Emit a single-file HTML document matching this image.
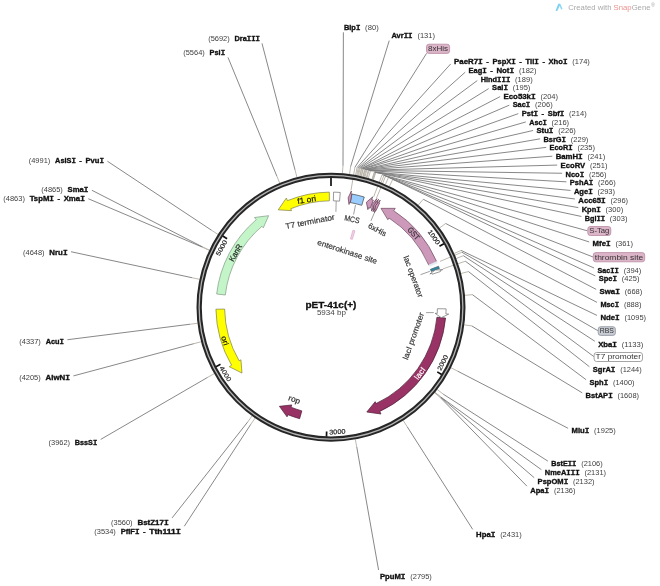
<!DOCTYPE html>
<html><head><meta charset="utf-8"><style>
html,body{margin:0;padding:0;background:#fff;width:660px;height:586px;overflow:hidden}
svg{display:block;will-change:transform}
text{font-family:"Liberation Sans",sans-serif}
.n{font-size:7.4px;font-weight:bold;fill:#111;stroke:#111;stroke-width:0.35px;lengthAdjust:spacingAndGlyphs}
.si{font-family:"Liberation Mono",monospace}
.b{font-size:6.7px;fill:#404040}
.fb{font-size:7.8px;fill:#333}
.tk{font-size:6.8px;fill:#222}
.fl{font-size:7.6px;fill:#222}
.fl2{font-size:7.6px;fill:#222}
.title{font-size:8.4px;font-weight:bold;fill:#111;stroke:#111;stroke-width:0.3px}
.bp{font-size:7.6px;fill:#444}
.logo{font-size:8.1px;fill:#a9a9a9}
</style></head><body>
<svg width="660" height="586" viewBox="0 0 660 586">
<g fill="none" stroke-linecap="butt">
<path d="M342.37 173.28L343.01 165.71 M349.58 174.09L350.63 166.56 M355.62 175.07L357.01 167.60 M356.74 175.29L358.20 167.83 M357.72 175.48L359.23 168.03 M358.55 175.65L360.11 168.22 M359.81 175.92L361.43 168.50 M360.08 175.98L361.73 168.56 M361.19 176.24L362.90 168.83 M361.47 176.30L363.19 168.90 M362.86 176.63L364.66 169.25 M363.27 176.73L365.10 169.35 M364.10 176.94L365.97 169.57 M364.93 177.15L366.84 169.80 M366.30 177.52L368.30 170.19 M366.99 177.71L369.02 170.38 M368.36 178.10L370.47 170.80 M372.03 179.22L374.35 171.98 M372.44 179.35L374.78 172.12 M372.98 179.52L375.35 172.30 M373.38 179.66L375.78 172.45 M381.13 182.50L383.97 175.45 M385.46 184.33L388.54 177.38 M389.46 186.18L392.77 179.34 M418.33 205.04L423.27 199.26 M439.56 227.96L445.69 223.48 M454.19 253.46L461.15 250.42 M456.25 258.46L463.33 255.70 M461.10 273.48L468.46 271.57 M464.88 295.33L472.45 294.66 M464.23 324.87L471.77 325.87 M450.98 367.77L457.76 371.19 M437.25 389.51L443.25 394.17 M435.03 392.29L440.91 397.11 M434.94 392.40L440.82 397.22 M434.58 392.84L440.44 397.69 M403.25 420.53L407.33 426.94 M355.34 439.38L356.72 446.85 M296.94 177.19L295.01 169.84 M279.68 182.98L276.78 175.96 M218.02 234.41L211.63 230.30 M209.34 250.09L202.46 246.86 M209.22 250.35L202.33 247.13 M199.53 279.30L192.09 277.72 M197.57 323.31L190.02 324.22 M201.12 341.74L193.77 343.70 M214.18 373.66L207.58 377.42 M252.05 415.97L247.58 422.12 M255.07 418.10L250.78 424.37 M350.95 190.59L354.94 167.23 M373.61 196.84L382.15 174.73 M376.52 198.01L385.64 176.13 M440.07 261.39L461.92 252.22 M442.92 268.88L465.35 261.21" stroke="#b5b0a5" stroke-width="0.9"/>
<path d="M343.01 165.71L343.38 32.30 M350.63 166.56L389.22 40.60 M357.01 167.60L450.70 63.91 M358.20 167.83L465.20 72.19 M359.23 168.03L477.30 80.55 M360.11 168.22L488.70 88.60 M361.43 168.50L500.10 96.60 M361.73 168.56L509.30 105.15 M362.90 168.83L518.30 113.63 M363.19 168.90L525.80 121.94 M364.66 169.25L533.10 130.47 M365.10 169.35L540.10 138.81 M365.97 169.57L546.20 147.36 M366.84 169.80L552.30 156.21 M368.30 170.19L557.20 165.08 M369.02 170.38L562.10 173.26 M370.47 170.80L566.40 181.84 M374.35 171.98L570.50 190.43 M374.78 172.12L574.90 199.01 M375.35 172.30L578.30 207.60 M375.78 172.45L581.40 216.48 M383.97 175.45L589.20 241.96 M388.54 177.38L594.10 268.02 M392.77 179.34L595.30 275.92 M423.27 199.26L596.20 289.39 M445.69 223.48L597.00 302.39 M461.15 250.42L597.00 315.41 M463.33 255.70L594.80 341.21 M468.46 271.57L589.40 366.72 M472.45 294.66L586.10 379.73 M471.77 325.87L582.20 392.84 M457.76 371.19L568.10 428.30 M443.25 394.17L547.90 461.14 M440.91 397.11L541.40 469.70 M440.82 397.22L534.20 477.70 M440.44 397.69L526.90 486.13 M407.33 426.94L472.70 529.36 M356.72 446.85L378.59 570.00 M295.01 169.84L262.01 43.40 M276.78 175.96L227.99 57.40 M211.63 230.30L107.40 161.22 M202.46 246.86L91.90 190.28 M202.33 247.13L88.30 198.73 M192.09 277.72L71.00 251.72 M190.02 324.22L67.40 339.73 M193.77 343.70L73.40 375.92 M207.58 377.42L100.70 439.42 M247.58 422.12L172.10 517.92 M250.78 424.37L184.30 526.26 M354.94 167.23L426.60 53.30 M382.15 174.73L587.50 230.84 M385.64 176.13L593.00 256.97 M461.92 252.22L597.90 330.70 M465.35 261.21L593.80 356.55" stroke="#7a7a7a" stroke-width="0.9"/>
</g>
<circle cx="331.0" cy="307.2" r="131.85" fill="none" stroke="#262626" stroke-width="5.3"/>
<circle cx="331.0" cy="307.2" r="131.85" fill="none" stroke="#b4b4b4" stroke-width="1.3"/>
<path d="M331.00 177.70L331.00 185.90 M443.90 243.76L439.45 246.26 M441.61 374.54L437.26 371.89 M326.48 436.62L326.65 431.52 M215.96 366.66L220.49 364.32 M222.81 236.03L227.07 238.83" stroke="#111" stroke-width="1.7"/>
<path d="M336.20 201.00L335.90 211.80 M355.50 205.00L353.60 214.50 M375.00 211.40L370.90 220.90 M420.50 274.70L429.90 271.30 M426.10 312.60L433.80 312.60" stroke="#888" stroke-width="0.8" fill="none"/>
<path d="M329.29 192.11A115.10 115.10 0 0 0 287.43 200.67L286.37 198.07L278.23 209.83L291.52 210.66L290.72 208.72A106.40 106.40 0 0 1 329.42 200.81Z" fill="#ffff00" stroke="#7d7d52" stroke-width="0.7" stroke-linejoin="miter"/><path d="M216.66 294.01A115.10 115.10 0 0 1 256.27 219.66L254.45 217.53L268.63 215.68L263.28 227.87L261.92 226.27A106.40 106.40 0 0 0 225.30 295.00Z" fill="#c4f5c8" stroke="#7f9a84" stroke-width="0.7" stroke-linejoin="miter"/><path d="M215.92 309.21A115.10 115.10 0 0 0 231.61 365.24L229.19 366.65L241.96 373.06L240.93 359.80L239.12 360.85A106.40 106.40 0 0 1 224.62 309.06Z" fill="#ffff00" stroke="#7d7d52" stroke-width="0.7" stroke-linejoin="miter"/><path d="M299.64 418.67A115.80 115.80 0 0 1 287.92 414.69L287.06 416.82L279.43 406.34L291.82 404.94L290.93 407.17A107.70 107.70 0 0 0 301.83 410.88Z" fill="#993366" stroke="#4a1a33" stroke-width="0.7" stroke-linejoin="miter"/><path d="M445.58 318.09A115.10 115.10 0 0 1 379.78 411.45L380.97 413.99L366.81 412.00L375.20 401.67L376.09 403.57A106.40 106.40 0 0 0 436.92 317.27Z" fill="#993366" stroke="#4a1a33" stroke-width="0.7" stroke-linejoin="miter"/><path d="M446.09 308.85A115.10 115.10 0 0 1 445.90 313.95L448.70 314.11L441.25 317.68L435.12 313.31L437.22 313.44A106.40 106.40 0 0 0 437.39 308.72Z" fill="#ffffff" stroke="#6f6f6f" stroke-width="0.7" stroke-linejoin="miter"/><path d="M436.64 261.51A115.10 115.10 0 0 0 393.73 210.69L395.25 208.35L380.96 208.36L387.84 219.75L388.99 217.99A106.40 106.40 0 0 1 428.66 264.97Z" fill="#cc99bb" stroke="#6e4a5e" stroke-width="0.7" stroke-linejoin="miter"/><path d="M436.64 261.51A115.10 115.10 0 0 1 437.31 263.08L429.27 266.42A106.40 106.40 0 0 0 428.66 264.97Z" fill="#e6ebf2" stroke="#e6ebf2" stroke-width="0.7" stroke-linejoin="miter"/><path d="M438.57 266.25A115.10 115.10 0 0 1 439.41 268.54L431.22 271.46A106.40 106.40 0 0 0 430.44 269.35Z" fill="#2a8ca8" stroke="#4a5a60" stroke-width="0.7" stroke-linejoin="miter"/><path d="M440.44 271.54A115.10 115.10 0 0 0 440.09 270.50L442.75 269.61L435.32 270.00L429.86 273.95L431.85 273.28A106.40 106.40 0 0 1 432.16 274.23Z" fill="#ffffff" stroke="#6f6f6f" stroke-width="0.7" stroke-linejoin="miter"/><path d="M333.56 192.13A115.10 115.10 0 0 1 340.25 192.47L339.55 201.14A106.40 106.40 0 0 0 333.37 200.83Z" fill="#ffffff" stroke="#6f6f6f" stroke-width="0.7" stroke-linejoin="miter"/><path d="M351.85 194.00A115.10 115.10 0 0 1 364.28 197.02L361.76 205.34A106.40 106.40 0 0 0 350.27 202.56Z" fill="#99ccff" stroke="#444444" stroke-width="0.7" stroke-linejoin="miter"/><path d="M351.85 194.00A115.10 115.10 0 0 0 350.89 193.83L351.38 191.07L348.17 197.79L349.03 204.47L349.39 202.40A106.40 106.40 0 0 1 350.27 202.56Z" fill="#cc99bb" stroke="#5e3a4e" stroke-width="0.7" stroke-linejoin="miter"/><path d="M373.37 200.18A115.10 115.10 0 0 0 371.67 199.53L372.66 196.91L366.37 202.25L367.86 209.63L368.60 207.66A106.40 106.40 0 0 1 370.16 208.27Z" fill="#cc99bb" stroke="#5e3a4e" stroke-width="0.7" stroke-linejoin="miter"/><path d="M376.30 201.39A115.10 115.10 0 0 0 375.74 201.15L376.83 198.57L372.20 204.40L371.54 211.10L372.36 209.17A106.40 106.40 0 0 1 372.87 209.39Z" fill="#cc99bb" stroke="#5e3a4e" stroke-width="0.7" stroke-linejoin="miter"/><path d="M377.97 202.12A115.10 115.10 0 0 0 377.42 201.88L378.55 199.31L373.83 205.07L373.06 211.76L373.91 209.84A106.40 106.40 0 0 1 374.42 210.06Z" fill="#cc99bb" stroke="#5e3a4e" stroke-width="0.7" stroke-linejoin="miter"/><path d="M379.63 202.88A115.10 115.10 0 0 0 379.09 202.63L380.26 200.08L375.45 205.76L374.58 212.44L375.45 210.53A106.40 106.40 0 0 1 375.96 210.76Z" fill="#cc99bb" stroke="#5e3a4e" stroke-width="0.7" stroke-linejoin="miter"/><path d="M352.91 230.26A80.00 80.00 0 0 1 354.94 230.87L352.25 239.45A71.00 71.00 0 0 0 350.44 238.91Z" fill="#efd3e3" stroke="#dba8c6" stroke-width="0.7" stroke-linejoin="miter"/>
<g transform="translate(306.60 199.60) rotate(-9.20)"><text x="-9.55" y="2.84" font-size="7.9" fill="#111" stroke="#111" stroke-width="0.18" font-weight="normal" textLength="19.10" lengthAdjust="spacingAndGlyphs">f1 ori</text></g><g transform="translate(310.00 221.50) rotate(-10.90)"><text x="-25.00" y="2.84" font-size="7.9" fill="#333" stroke="#333" stroke-width="0.18" font-weight="normal" textLength="50.00" lengthAdjust="spacingAndGlyphs">T7 terminator</text></g><g transform="translate(352.00 219.00) rotate(11.70)"><text x="-7.70" y="2.84" font-size="7.9" fill="#333" stroke="#333" stroke-width="0.18" font-weight="normal" textLength="15.40" lengthAdjust="spacingAndGlyphs">MCS</text></g><g transform="translate(377.40 229.50) rotate(28.50)"><text x="-9.80" y="2.84" font-size="7.9" fill="#333" stroke="#333" stroke-width="0.18" font-weight="normal" textLength="19.60" lengthAdjust="spacingAndGlyphs">6xHis</text></g><g transform="translate(347.30 251.50) rotate(18.00)"><text x="-31.20" y="2.84" font-size="7.9" fill="#333" stroke="#333" stroke-width="0.18" font-weight="normal" textLength="62.40" lengthAdjust="spacingAndGlyphs">enterokinase site</text></g><g transform="translate(413.73 233.49) rotate(48.30)"><text x="-7.05" y="2.84" font-size="7.9" fill="#333" stroke="#333" stroke-width="0.18" font-weight="normal" textLength="14.11" lengthAdjust="spacingAndGlyphs">GST</text></g><g transform="translate(413.50 276.50) rotate(69.70)"><text x="-21.86" y="2.84" font-size="7.9" fill="#333" stroke="#333" stroke-width="0.18" font-weight="normal" textLength="43.72" lengthAdjust="spacingAndGlyphs">lac operator</text></g><g transform="translate(413.30 336.00) rotate(-70.40)"><text x="-24.74" y="2.84" font-size="7.9" fill="#333" stroke="#333" stroke-width="0.18" font-weight="normal" textLength="49.47" lengthAdjust="spacingAndGlyphs">lacI promoter</text></g><g transform="translate(419.70 373.20) rotate(-53.20)"><text x="-6.59" y="2.84" font-size="7.9" fill="#ffffff" stroke="#ffffff" stroke-width="0.18" font-weight="normal" textLength="13.17" lengthAdjust="spacingAndGlyphs">lacI</text></g><g transform="translate(294.40 399.30) rotate(20.00)"><text x="-6.01" y="2.84" font-size="7.9" fill="#222" stroke="#222" stroke-width="0.18" font-weight="normal" textLength="12.01" lengthAdjust="spacingAndGlyphs">rop</text></g><g transform="translate(225.20 340.60) rotate(72.40)"><text x="-4.74" y="2.84" font-size="7.9" fill="#111" stroke="#111" stroke-width="0.18" font-weight="normal" textLength="9.48" lengthAdjust="spacingAndGlyphs">ori</text></g><g transform="translate(235.30 252.70) rotate(-60.50)"><text x="-9.37" y="2.84" font-size="7.9" fill="#222" stroke="#222" stroke-width="0.18" font-weight="normal" textLength="18.74" lengthAdjust="spacingAndGlyphs">KanR</text></g>
<g transform="translate(434.01 237.11) rotate(55.77)"><text x="-8.20" y="2.34" font-size="6.5" fill="#222" stroke="#222" stroke-width="0.18" font-weight="normal" textLength="16.41" lengthAdjust="spacingAndGlyphs">1000</text></g><g transform="translate(442.57 362.67) rotate(-63.57)"><text x="-8.20" y="2.34" font-size="6.5" fill="#222" stroke="#222" stroke-width="0.18" font-weight="normal" textLength="16.41" lengthAdjust="spacingAndGlyphs">2000</text></g><g transform="translate(337.30 431.64) rotate(-2.90)"><text x="-8.20" y="2.34" font-size="6.5" fill="#222" stroke="#222" stroke-width="0.18" font-weight="normal" textLength="16.41" lengthAdjust="spacingAndGlyphs">3000</text></g><g transform="translate(225.60 373.65) rotate(57.77)"><text x="-8.20" y="2.34" font-size="6.5" fill="#222" stroke="#222" stroke-width="0.18" font-weight="normal" textLength="16.41" lengthAdjust="spacingAndGlyphs">4000</text></g><g transform="translate(221.43 247.87) rotate(298.44)"><text x="-8.20" y="2.34" font-size="6.5" fill="#222" stroke="#222" stroke-width="0.18" font-weight="normal" textLength="16.41" lengthAdjust="spacingAndGlyphs">5000</text></g>
<text x="343.90" y="29.90" class="n" lengthAdjust="spacingAndGlyphs" textLength="16.44">Blp<tspan class="si">I</tspan></text><text x="365.14" y="29.90" class="b" lengthAdjust="spacingAndGlyphs" textLength="13.63">(80)</text><text x="391.50" y="38.20" class="n" lengthAdjust="spacingAndGlyphs" textLength="21.11">Avr<tspan class="si">I</tspan><tspan class="si">I</tspan></text><text x="417.41" y="38.20" class="b" lengthAdjust="spacingAndGlyphs" textLength="17.60">(131)</text><text x="454.10" y="64.10" class="n" lengthAdjust="spacingAndGlyphs" textLength="28.73">PaeR7<tspan class="si">I</tspan></text><text x="486.36" y="64.10" class="n" lengthAdjust="spacingAndGlyphs" textLength="2.6">-</text><text x="492.49" y="64.10" class="n" lengthAdjust="spacingAndGlyphs" textLength="23.34">PspX<tspan class="si">I</tspan></text><text x="519.36" y="64.10" class="n" lengthAdjust="spacingAndGlyphs" textLength="2.6">-</text><text x="525.49" y="64.10" class="n" lengthAdjust="spacingAndGlyphs" textLength="13.38">Tli<tspan class="si">I</tspan></text><text x="542.41" y="64.10" class="n" lengthAdjust="spacingAndGlyphs" textLength="2.6">-</text><text x="548.54" y="64.10" class="n" lengthAdjust="spacingAndGlyphs" textLength="18.96">Xho<tspan class="si">I</tspan></text><text x="572.30" y="64.10" class="b" lengthAdjust="spacingAndGlyphs" textLength="17.60">(174)</text><text x="468.60" y="73.00" class="n" lengthAdjust="spacingAndGlyphs" textLength="18.17">Eag<tspan class="si">I</tspan></text><text x="490.30" y="73.00" class="n" lengthAdjust="spacingAndGlyphs" textLength="2.6">-</text><text x="496.43" y="73.00" class="n" lengthAdjust="spacingAndGlyphs" textLength="17.75">Not<tspan class="si">I</tspan></text><text x="518.98" y="73.00" class="b" lengthAdjust="spacingAndGlyphs" textLength="17.60">(182)</text><text x="480.70" y="81.80" class="n" lengthAdjust="spacingAndGlyphs" textLength="29.60">Hind<tspan class="si">I</tspan><tspan class="si">I</tspan><tspan class="si">I</tspan></text><text x="515.10" y="81.80" class="b" lengthAdjust="spacingAndGlyphs" textLength="17.60">(189)</text><text x="492.10" y="90.20" class="n" lengthAdjust="spacingAndGlyphs" textLength="15.86">Sal<tspan class="si">I</tspan></text><text x="512.76" y="90.20" class="b" lengthAdjust="spacingAndGlyphs" textLength="17.60">(195)</text><text x="503.50" y="98.50" class="n" lengthAdjust="spacingAndGlyphs" textLength="32.18">Eco53k<tspan class="si">I</tspan></text><text x="540.48" y="98.50" class="b" lengthAdjust="spacingAndGlyphs" textLength="17.60">(204)</text><text x="512.70" y="107.30" class="n" lengthAdjust="spacingAndGlyphs" textLength="17.58">Sac<tspan class="si">I</tspan></text><text x="535.08" y="107.30" class="b" lengthAdjust="spacingAndGlyphs" textLength="17.60">(206)</text><text x="521.70" y="116.00" class="n" lengthAdjust="spacingAndGlyphs" textLength="16.30">Pst<tspan class="si">I</tspan></text><text x="541.53" y="116.00" class="n" lengthAdjust="spacingAndGlyphs" textLength="2.6">-</text><text x="547.66" y="116.00" class="n" lengthAdjust="spacingAndGlyphs" textLength="16.64">Sbf<tspan class="si">I</tspan></text><text x="569.10" y="116.00" class="b" lengthAdjust="spacingAndGlyphs" textLength="17.60">(214)</text><text x="529.20" y="124.50" class="n" lengthAdjust="spacingAndGlyphs" textLength="17.52">Asc<tspan class="si">I</tspan></text><text x="551.52" y="124.50" class="b" lengthAdjust="spacingAndGlyphs" textLength="17.60">(216)</text><text x="536.50" y="133.20" class="n" lengthAdjust="spacingAndGlyphs" textLength="16.97">Stu<tspan class="si">I</tspan></text><text x="558.27" y="133.20" class="b" lengthAdjust="spacingAndGlyphs" textLength="17.60">(226)</text><text x="543.50" y="141.70" class="n" lengthAdjust="spacingAndGlyphs" textLength="22.46">BsrG<tspan class="si">I</tspan></text><text x="570.76" y="141.70" class="b" lengthAdjust="spacingAndGlyphs" textLength="17.60">(229)</text><text x="549.60" y="150.40" class="n" lengthAdjust="spacingAndGlyphs" textLength="23.00">EcoR<tspan class="si">I</tspan></text><text x="577.40" y="150.40" class="b" lengthAdjust="spacingAndGlyphs" textLength="17.60">(235)</text><text x="555.70" y="159.40" class="n" lengthAdjust="spacingAndGlyphs" textLength="27.10">BamH<tspan class="si">I</tspan></text><text x="587.60" y="159.40" class="b" lengthAdjust="spacingAndGlyphs" textLength="17.60">(241)</text><text x="560.60" y="168.40" class="n" lengthAdjust="spacingAndGlyphs" textLength="24.53">EcoRV</text><text x="589.93" y="168.40" class="b" lengthAdjust="spacingAndGlyphs" textLength="17.60">(251)</text><text x="565.50" y="176.70" class="n" lengthAdjust="spacingAndGlyphs" textLength="18.68">Nco<tspan class="si">I</tspan></text><text x="588.98" y="176.70" class="b" lengthAdjust="spacingAndGlyphs" textLength="17.60">(256)</text><text x="569.80" y="185.40" class="n" lengthAdjust="spacingAndGlyphs" textLength="23.52">PshA<tspan class="si">I</tspan></text><text x="598.12" y="185.40" class="b" lengthAdjust="spacingAndGlyphs" textLength="17.60">(266)</text><text x="573.90" y="194.10" class="n" lengthAdjust="spacingAndGlyphs" textLength="18.80">Age<tspan class="si">I</tspan></text><text x="597.49" y="194.10" class="b" lengthAdjust="spacingAndGlyphs" textLength="17.60">(293)</text><text x="578.30" y="202.80" class="n" lengthAdjust="spacingAndGlyphs" textLength="27.44">Acc65<tspan class="si">I</tspan></text><text x="610.54" y="202.80" class="b" lengthAdjust="spacingAndGlyphs" textLength="17.60">(296)</text><text x="581.70" y="211.50" class="n" lengthAdjust="spacingAndGlyphs" textLength="19.10">Kpn<tspan class="si">I</tspan></text><text x="605.60" y="211.50" class="b" lengthAdjust="spacingAndGlyphs" textLength="17.60">(300)</text><text x="584.80" y="220.50" class="n" lengthAdjust="spacingAndGlyphs" textLength="20.27">Bgl<tspan class="si">I</tspan><tspan class="si">I</tspan></text><text x="609.86" y="220.50" class="b" lengthAdjust="spacingAndGlyphs" textLength="17.60">(303)</text><text x="592.60" y="246.30" class="n" lengthAdjust="spacingAndGlyphs" textLength="18.06">Mfe<tspan class="si">I</tspan></text><text x="615.46" y="246.30" class="b" lengthAdjust="spacingAndGlyphs" textLength="17.60">(361)</text><text x="597.50" y="272.70" class="n" lengthAdjust="spacingAndGlyphs" textLength="21.41">Sac<tspan class="si">I</tspan><tspan class="si">I</tspan></text><text x="623.71" y="272.70" class="b" lengthAdjust="spacingAndGlyphs" textLength="17.60">(394)</text><text x="598.70" y="280.70" class="n" lengthAdjust="spacingAndGlyphs" textLength="18.33">Spe<tspan class="si">I</tspan></text><text x="621.83" y="280.70" class="b" lengthAdjust="spacingAndGlyphs" textLength="17.60">(425)</text><text x="599.60" y="294.30" class="n" lengthAdjust="spacingAndGlyphs" textLength="20.32">Swa<tspan class="si">I</tspan></text><text x="624.72" y="294.30" class="b" lengthAdjust="spacingAndGlyphs" textLength="17.60">(668)</text><text x="600.40" y="307.30" class="n" lengthAdjust="spacingAndGlyphs" textLength="18.72">Msc<tspan class="si">I</tspan></text><text x="623.92" y="307.30" class="b" lengthAdjust="spacingAndGlyphs" textLength="17.60">(888)</text><text x="600.40" y="320.20" class="n" lengthAdjust="spacingAndGlyphs" textLength="19.29">Nde<tspan class="si">I</tspan></text><text x="624.49" y="320.20" class="b" lengthAdjust="spacingAndGlyphs" textLength="21.57">(1095)</text><text x="598.20" y="346.50" class="n" lengthAdjust="spacingAndGlyphs" textLength="18.74">Xba<tspan class="si">I</tspan></text><text x="621.74" y="346.50" class="b" lengthAdjust="spacingAndGlyphs" textLength="21.57">(1133)</text><text x="592.80" y="372.40" class="n" lengthAdjust="spacingAndGlyphs" textLength="22.60">SgrA<tspan class="si">I</tspan></text><text x="620.20" y="372.40" class="b" lengthAdjust="spacingAndGlyphs" textLength="21.57">(1244)</text><text x="589.50" y="385.30" class="n" lengthAdjust="spacingAndGlyphs" textLength="18.67">Sph<tspan class="si">I</tspan></text><text x="612.97" y="385.30" class="b" lengthAdjust="spacingAndGlyphs" textLength="21.57">(1400)</text><text x="585.60" y="398.00" class="n" lengthAdjust="spacingAndGlyphs" textLength="27.06">BstAP<tspan class="si">I</tspan></text><text x="617.46" y="398.00" class="b" lengthAdjust="spacingAndGlyphs" textLength="21.57">(1608)</text><text x="571.50" y="433.20" class="n" lengthAdjust="spacingAndGlyphs" textLength="17.84">Mlu<tspan class="si">I</tspan></text><text x="594.14" y="433.20" class="b" lengthAdjust="spacingAndGlyphs" textLength="21.57">(1925)</text><text x="551.30" y="466.40" class="n" lengthAdjust="spacingAndGlyphs" textLength="25.10">BstE<tspan class="si">I</tspan><tspan class="si">I</tspan></text><text x="581.20" y="466.40" class="b" lengthAdjust="spacingAndGlyphs" textLength="21.57">(2106)</text><text x="544.80" y="475.20" class="n" lengthAdjust="spacingAndGlyphs" textLength="34.88">NmeA<tspan class="si">I</tspan><tspan class="si">I</tspan><tspan class="si">I</tspan></text><text x="584.48" y="475.20" class="b" lengthAdjust="spacingAndGlyphs" textLength="21.57">(2131)</text><text x="537.60" y="483.60" class="n" lengthAdjust="spacingAndGlyphs" textLength="30.58">PspOM<tspan class="si">I</tspan></text><text x="572.98" y="483.60" class="b" lengthAdjust="spacingAndGlyphs" textLength="21.57">(2132)</text><text x="530.30" y="492.50" class="n" lengthAdjust="spacingAndGlyphs" textLength="18.82">Apa<tspan class="si">I</tspan></text><text x="553.92" y="492.50" class="b" lengthAdjust="spacingAndGlyphs" textLength="21.57">(2136)</text><text x="476.10" y="537.30" class="n" lengthAdjust="spacingAndGlyphs" textLength="19.25">Hpa<tspan class="si">I</tspan></text><text x="500.15" y="537.30" class="b" lengthAdjust="spacingAndGlyphs" textLength="21.57">(2431)</text><text x="380.00" y="578.50" class="n" lengthAdjust="spacingAndGlyphs" textLength="25.47">PpuM<tspan class="si">I</tspan></text><text x="410.27" y="578.50" class="b" lengthAdjust="spacingAndGlyphs" textLength="21.57">(2795)</text><text x="234.57" y="41.00" class="n" lengthAdjust="spacingAndGlyphs" textLength="25.43">Dra<tspan class="si">I</tspan><tspan class="si">I</tspan><tspan class="si">I</tspan></text><text x="208.19" y="41.00" class="b" lengthAdjust="spacingAndGlyphs" textLength="21.57">(5692)</text><text x="209.60" y="55.00" class="n" lengthAdjust="spacingAndGlyphs" textLength="15.50">Psi<tspan class="si">I</tspan></text><text x="183.23" y="55.00" class="b" lengthAdjust="spacingAndGlyphs" textLength="21.57">(5564)</text><text x="55.08" y="162.70" class="n" lengthAdjust="spacingAndGlyphs" textLength="20.77">AsiS<tspan class="si">I</tspan></text><text x="79.38" y="162.70" class="n" lengthAdjust="spacingAndGlyphs" textLength="2.6">-</text><text x="85.51" y="162.70" class="n" lengthAdjust="spacingAndGlyphs" textLength="18.49">Pvu<tspan class="si">I</tspan></text><text x="28.71" y="162.70" class="b" lengthAdjust="spacingAndGlyphs" textLength="21.57">(4991)</text><text x="67.63" y="192.20" class="n" lengthAdjust="spacingAndGlyphs" textLength="20.87">Sma<tspan class="si">I</tspan></text><text x="41.25" y="192.20" class="b" lengthAdjust="spacingAndGlyphs" textLength="21.57">(4865)</text><text x="29.71" y="200.90" class="n" lengthAdjust="spacingAndGlyphs" textLength="24.28">TspM<tspan class="si">I</tspan></text><text x="57.52" y="200.90" class="n" lengthAdjust="spacingAndGlyphs" textLength="2.6">-</text><text x="63.65" y="200.90" class="n" lengthAdjust="spacingAndGlyphs" textLength="21.25">Xma<tspan class="si">I</tspan></text><text x="3.34" y="200.90" class="b" lengthAdjust="spacingAndGlyphs" textLength="21.57">(4863)</text><text x="49.39" y="254.50" class="n" lengthAdjust="spacingAndGlyphs" textLength="18.21">Nru<tspan class="si">I</tspan></text><text x="23.01" y="254.50" class="b" lengthAdjust="spacingAndGlyphs" textLength="21.57">(4648)</text><text x="45.65" y="343.50" class="n" lengthAdjust="spacingAndGlyphs" textLength="18.35">Acu<tspan class="si">I</tspan></text><text x="19.27" y="343.50" class="b" lengthAdjust="spacingAndGlyphs" textLength="21.57">(4337)</text><text x="45.57" y="380.10" class="n" lengthAdjust="spacingAndGlyphs" textLength="24.43">AlwN<tspan class="si">I</tspan></text><text x="19.20" y="380.10" class="b" lengthAdjust="spacingAndGlyphs" textLength="21.57">(4205)</text><text x="74.87" y="444.50" class="n" lengthAdjust="spacingAndGlyphs" textLength="22.43">BssS<tspan class="si">I</tspan></text><text x="48.50" y="444.50" class="b" lengthAdjust="spacingAndGlyphs" textLength="21.57">(3962)</text><text x="137.40" y="525.00" class="n" lengthAdjust="spacingAndGlyphs" textLength="31.30">BstZ17<tspan class="si">I</tspan></text><text x="111.03" y="525.00" class="b" lengthAdjust="spacingAndGlyphs" textLength="21.57">(3560)</text><text x="120.69" y="534.10" class="n" lengthAdjust="spacingAndGlyphs" textLength="18.85">PflF<tspan class="si">I</tspan></text><text x="143.07" y="534.10" class="n" lengthAdjust="spacingAndGlyphs" textLength="2.6">-</text><text x="149.20" y="534.10" class="n" lengthAdjust="spacingAndGlyphs" textLength="31.70">Tth111<tspan class="si">I</tspan></text><text x="94.31" y="534.10" class="b" lengthAdjust="spacingAndGlyphs" textLength="21.57">(3534)</text><rect x="426.50" y="44.20" width="23.10" height="9.20" rx="2.5" fill="#dcb4c8" stroke="#b98aa3" stroke-width="0.8"/><text x="428.00" y="51.10" class="fb" textLength="20.10" lengthAdjust="spacingAndGlyphs">8xHis</text><rect x="587.80" y="226.50" width="23.00" height="9.00" rx="2.5" fill="#dcb4c8" stroke="#b98aa3" stroke-width="0.8"/><text x="589.30" y="233.20" class="fb" textLength="20.00" lengthAdjust="spacingAndGlyphs">S-Tag</text><rect x="593.30" y="252.60" width="51.40" height="9.20" rx="2.5" fill="#dcb4c8" stroke="#b98aa3" stroke-width="0.8"/><text x="594.80" y="259.50" class="fb" textLength="48.40" lengthAdjust="spacingAndGlyphs">thrombin site</text><rect x="598.20" y="326.70" width="17.20" height="8.70" rx="2.5" fill="#c8ccd4" stroke="#8e939b" stroke-width="0.8"/><text x="599.70" y="333.10" class="fb" textLength="14.20" lengthAdjust="spacingAndGlyphs">RBS</text><rect x="594.10" y="352.50" width="48.40" height="9.00" rx="2.5" fill="#ffffff" stroke="#8e8e8e" stroke-width="0.8"/><text x="595.60" y="359.20" class="fb" textLength="45.40" lengthAdjust="spacingAndGlyphs">T7 promoter</text>
<text x="305.5" y="307.5" class="title" textLength="50.9" lengthAdjust="spacingAndGlyphs">pET-41c(+)</text>
<text x="316.9" y="314.9" class="bp" textLength="29.1" lengthAdjust="spacingAndGlyphs">5934 bp</text>
<path d="M555.6 10.4 Q556.2 11.4 557.4 10.8 L560.4 4.8 Q559.6 3.0 558.3 3.8 Z" fill="#80d2f0"/><path d="M559.4 5.0 L560.9 9.2 Q561.9 9.9 562.5 8.7 L560.5 3.9 Z" fill="#8fd9f3"/>
<text x="568.2" y="9.8" class="logo" textLength="82.3" lengthAdjust="spacingAndGlyphs">Created with <tspan fill="#e8938f">Snap</tspan>Gene</text><text x="650.9" y="7.4" class="logo" style="font-size:5.4px">®</text>
</svg>
</body></html>
